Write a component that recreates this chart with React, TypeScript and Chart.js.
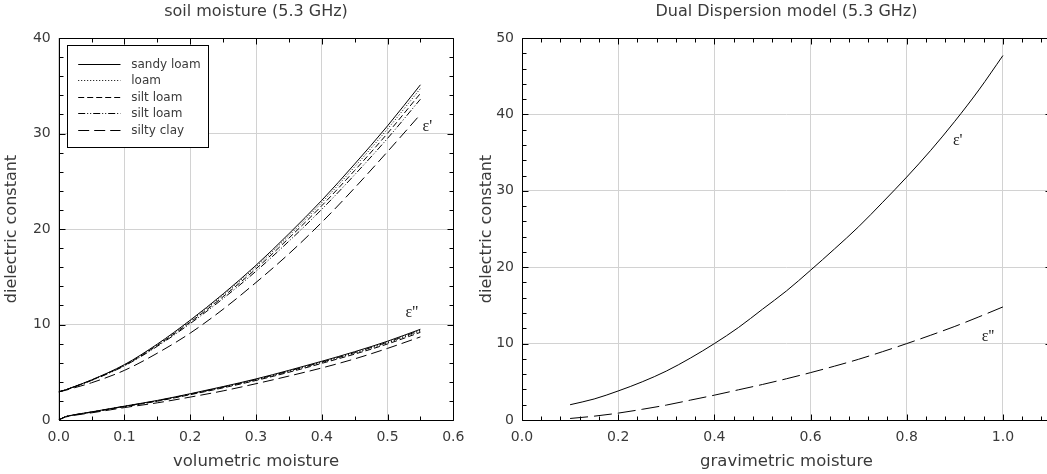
import React, { useEffect, useRef } from 'react';
import { Chart, registerables } from 'chart.js';

Chart.register(...registerables);

const SANS = '"DejaVu Sans", "Noto Sans", sans-serif';
const SERIF = '"Liberation Serif", "DejaVu Serif", serif';
const TEXT = '#3a3a3a';
const GRID = '#d2d2d2';

// ---------- Left panel: soil moisture (5.3 GHz) ----------
const volumetricMoisture = [0, 0.01, 0.02, 0.05, 0.1, 0.15, 0.2, 0.25, 0.3, 0.35, 0.4, 0.45, 0.5, 0.55];
const soilTypes = ['sandy loam', 'loam', 'silt loam', 'silt loam', 'silty clay'];

const epsRealSandyLoam = [2.95, 3.15, 3.4, 4.2, 5.8, 7.95, 10.45, 13.2, 16.2, 19.5, 23.0, 26.8, 30.8, 35.1];
const epsRealLoam = [2.95, 3.15, 3.39, 4.19, 5.77, 7.89, 10.36, 13.08, 16.04, 19.3, 22.76, 26.51, 30.47, 34.71];
const epsRealSiltLoamA = [2.95, 3.14, 3.39, 4.17, 5.72, 7.81, 10.24, 12.91, 15.83, 19.04, 22.44, 26.13, 30.02, 34.2];
const epsRealSiltLoamB = [2.95, 3.14, 3.38, 4.14, 5.67, 7.72, 10.1, 12.72, 15.58, 18.72, 22.06, 25.68, 29.49, 33.59];
const epsRealSiltyClay = [2.95, 3.1, 3.3, 3.9, 5.2, 7.0, 9.1, 11.6, 14.4, 17.4, 20.7, 24.3, 28.1, 32.0];

const epsImagSandyLoam = [0, 0.35, 0.5, 0.85, 1.45, 2.05, 2.75, 3.5, 4.3, 5.2, 6.15, 7.15, 8.25, 9.5];
const epsImagLoam = [0, 0.34, 0.49, 0.83, 1.42, 2.0, 2.69, 3.42, 4.2, 5.08, 6.02, 7.0, 8.08, 9.3];
const epsImagSiltLoamA = [0, 0.33, 0.48, 0.82, 1.4, 1.97, 2.65, 3.37, 4.14, 5.0, 5.93, 6.9, 7.96, 9.18];
const epsImagSiltLoamB = [0, 0.34, 0.5, 0.84, 1.43, 2.02, 2.71, 3.45, 4.24, 5.13, 6.07, 7.06, 8.15, 9.4];
const epsImagSiltyClay = [0, 0.3, 0.45, 0.75, 1.3, 1.8, 2.4, 3.05, 3.8, 4.6, 5.45, 6.4, 7.5, 8.7];

const leftXTicks = [0, 0.1, 0.2, 0.3, 0.4, 0.5, 0.6];
const leftYTicks = [0, 10, 20, 30, 40];
const leftCurveLabels = ["ε'", "ε''"];
const leftCurveLabelX = [0.5605, 0.537];
const leftCurveLabelY = [30.7, 11.2];

// ---------- Right panel: Dual Dispersion model (5.3 GHz) ----------
const gravimetricMoisture = [0.1, 0.15, 0.2, 0.25, 0.3, 0.35, 0.4, 0.45, 0.5, 0.55, 0.6, 0.65, 0.7, 0.75, 0.8, 0.85, 0.9, 0.95, 1.0];
const dualEpsReal = [2.0, 2.75, 3.8, 5.0, 6.4, 8.1, 10.0, 12.1, 14.5, 16.9, 19.6, 22.4, 25.3, 28.5, 31.8, 35.3, 39.1, 43.2, 47.7];
const dualEpsImag = [0.2, 0.5, 0.9, 1.4, 1.95, 2.6, 3.25, 3.95, 4.65, 5.4, 6.2, 7.05, 7.95, 8.95, 10.0, 11.1, 12.25, 13.5, 14.8];

const rightXTicks = [0, 0.2, 0.4, 0.6, 0.8, 1.0];
const rightYTicks = [0, 10, 20, 30, 40, 50];
const rightCurveLabels = ["ε'", "ε''"];
const rightCurveLabelX = [0.906, 0.969];
const rightCurveLabelY = [36.6, 10.9];

// ---------- styles ----------
const soilDashes = [[], [1, 2], [6, 3], [7, 2, 1, 2, 1, 2], [11, 5]];

// ---------- plugins ----------
const framePlugin = {
  id: 'frame',
  afterDatasetsDraw(chart: any, _args: any, opts: any) {
    const { ctx, chartArea } = chart;
    const xs = chart.scales.x;
    const ys = chart.scales.y;
    const L = Math.round(chartArea.left) + 0.5;
    const R = Math.round(chartArea.right) + 0.5;
    const T = Math.round(chartArea.top) + 0.5;
    const B = Math.round(chartArea.bottom) + 0.5;
    ctx.save();
    ctx.strokeStyle = '#000';
    ctx.lineWidth = 1;
    ctx.setLineDash([]);
    ctx.beginPath();
    ctx.rect(L, T, R - L, B - T);
    ctx.stroke();
    ctx.beginPath();
    const isMajor = (v: number, step: number) => Math.abs(v / step - Math.round(v / step)) < 1e-6;
    const nx = Math.floor((xs.max - xs.min) / opts.xMinor + 1e-6);
    for (let i = 0; i <= nx; i++) {
      const v = xs.min + i * opts.xMinor;
      const len = isMajor(v, opts.xMajor) ? opts.majorLen : opts.minorLen;
      const p = Math.round(xs.getPixelForValue(v)) + 0.5;
      ctx.moveTo(p, B);
      ctx.lineTo(p, B - len);
      ctx.moveTo(p, T);
      ctx.lineTo(p, T + len);
    }
    const ny = Math.floor((ys.max - ys.min) / opts.yMinor + 1e-6);
    for (let i = 0; i <= ny; i++) {
      const v = ys.min + i * opts.yMinor;
      const len = isMajor(v, opts.yMajor) ? opts.majorLen : opts.minorLen;
      const p = Math.round(ys.getPixelForValue(v)) + 0.5;
      ctx.moveTo(L, p);
      ctx.lineTo(L + len, p);
      ctx.moveTo(R, p);
      ctx.lineTo(R - len, p);
    }
    ctx.stroke();
    ctx.restore();
  },
};

const curveLabelPlugin = {
  id: 'curveLabels',
  afterDatasetsDraw(chart: any, _args: any, opts: any) {
    if (!opts || !opts.texts) return;
    const { ctx } = chart;
    ctx.save();
    ctx.fillStyle = '#222';
    ctx.font = `16px ${SERIF}`;
    ctx.textAlign = 'center';
    ctx.textBaseline = 'middle';
    opts.texts.forEach((t: string, i: number) => {
      const x = chart.scales.x.getPixelForValue(opts.xs[i]);
      const y = chart.scales.y.getPixelForValue(opts.ys[i]);
      ctx.fillText(t, x, y);
    });
    ctx.restore();
  },
};

const boxLegendPlugin = {
  id: 'boxLegend',
  afterDatasetsDraw(chart: any, _args: any, opts: any) {
    if (!opts || !opts.display) return;
    const { ctx, chartArea } = chart;
    const x0 = Math.round(chartArea.left + opts.offsetX) + 0.5;
    const y0 = Math.round(chartArea.top + opts.offsetY) + 0.5;
    ctx.save();
    ctx.fillStyle = '#fff';
    ctx.fillRect(x0, y0, opts.width, opts.height);
    ctx.strokeStyle = '#000';
    ctx.lineWidth = 1;
    ctx.setLineDash([]);
    ctx.strokeRect(x0, y0, opts.width, opts.height);
    const items = chart.data.datasets.filter((d: any) => !d.hideInLegend);
    items.forEach((ds: any, i: number) => {
      const cy = Math.round(y0 + opts.firstRow + i * opts.rowGap) + 0.5;
      ctx.beginPath();
      ctx.setLineDash(ds.borderDash || []);
      ctx.strokeStyle = ds.borderColor;
      ctx.lineWidth = ds.borderWidth;
      ctx.moveTo(x0 + opts.sampleStart, cy);
      ctx.lineTo(x0 + opts.sampleEnd, cy);
      ctx.stroke();
      ctx.setLineDash([]);
      ctx.fillStyle = TEXT;
      ctx.font = `12px ${SANS}`;
      ctx.textAlign = 'left';
      ctx.textBaseline = 'middle';
      ctx.fillText(ds.label, x0 + opts.textX, cy);
    });
    ctx.restore();
  },
};

function makeScales(cfg: any) {
  return {
    x: {
      type: 'linear',
      min: cfg.xMin,
      max: cfg.xMax,
      afterBuildTicks: (s: any) => {
        s.ticks = cfg.xTicks.map((v: number) => ({ value: v }));
      },
      afterFit: (s: any) => {
        s.height = cfg.xAxisHeight;
        s.paddingLeft = 0;
        s.paddingRight = 0;
      },
      ticks: {
        callback: (v: any) => Number(v).toFixed(1),
        font: { family: SANS, size: 14 },
        color: TEXT,
        padding: 9,
        maxRotation: 0,
        autoSkip: false,
      },
      grid: { color: GRID, lineWidth: 1, drawTicks: false },
      border: { display: false },
      title: {
        display: true,
        text: cfg.xTitle,
        font: { family: SANS, size: 16.5 },
        color: TEXT,
        padding: { top: 0, bottom: 2.5 },
      },
    },
    y: {
      type: 'linear',
      min: cfg.yMin,
      max: cfg.yMax,
      afterBuildTicks: (s: any) => {
        s.ticks = cfg.yTicks.map((v: number) => ({ value: v }));
      },
      afterFit: (s: any) => {
        s.width = cfg.yAxisWidth;
        s.paddingTop = 0;
        s.paddingBottom = 0;
      },
      ticks: {
        callback: (v: any) => String(v),
        font: { family: SANS, size: 14 },
        color: TEXT,
        padding: 8,
        autoSkip: false,
      },
      grid: { color: GRID, lineWidth: 1, drawTicks: false },
      border: { display: false },
      title: {
        display: true,
        text: 'dielectric constant',
        font: { family: SANS, size: 16 },
        color: TEXT,
        padding: { top: cfg.yTitlePad, bottom: 0 },
      },
    },
  };
}

function baseOptions(title: string, padRight: number) {
  return {
    responsive: false,
    animation: false,
    events: [],
    layout: { padding: { left: 0, right: padRight, top: 0, bottom: 0 } },
    elements: { point: { radius: 0 }, line: { borderWidth: 1 } },
    plugins: {
      legend: { display: false },
      tooltip: { enabled: false },
      title: {
        display: true,
        text: title,
        fullSize: false,
        font: { family: SANS, size: 16, weight: 'normal' },
        color: TEXT,
        padding: { top: 2.5, bottom: 16.3 },
      },
    },
  };
}

function line(label: string, xs: number[], ys: number[], dash: number[], hide: boolean) {
  return {
    label,
    data: xs.map((x, i) => ({ x, y: ys[i] })),
    borderColor: '#000',
    borderWidth: 1,
    borderDash: dash,
    fill: false,
    pointRadius: 0,
    cubicInterpolationMode: 'monotone',
    hideInLegend: hide,
  };
}

export default function App() {
  const leftRef = useRef<HTMLCanvasElement>(null);
  const rightRef = useRef<HTMLCanvasElement>(null);

  useEffect(() => {
    const realSeries = [epsRealSandyLoam, epsRealLoam, epsRealSiltLoamA, epsRealSiltLoamB, epsRealSiltyClay];
    const imagSeries = [epsImagSandyLoam, epsImagLoam, epsImagSiltLoamA, epsImagSiltLoamB, epsImagSiltyClay];

    const leftDatasets = [
      ...soilTypes.map((n, i) => line(n, volumetricMoisture, realSeries[i], soilDashes[i], false)),
      ...soilTypes.map((n, i) => line(n + " ε''", volumetricMoisture, imagSeries[i], soilDashes[i], true)),
    ];

    const leftOpts: any = baseOptions('soil moisture (5.3 GHz)', 26.7);
    leftOpts.scales = makeScales({
      xMin: 0, xMax: 0.6, xTicks: leftXTicks, xTitle: 'volumetric moisture', xAxisHeight: 54,
      yMin: 0, yMax: 40, yTicks: leftYTicks, yAxisWidth: 58.7, yTitlePad: 2.1,
    });
    leftOpts.plugins.frame = { xMajor: 0.1, xMinor: 0.05, yMajor: 10, yMinor: 2, majorLen: 6, minorLen: 4 };
    leftOpts.plugins.curveLabels = { texts: leftCurveLabels, xs: leftCurveLabelX, ys: leftCurveLabelY };
    leftOpts.plugins.boxLegend = {
      display: true, offsetX: 8.3, offsetY: 7, width: 141, height: 102,
      firstRow: 18, rowGap: 16.6, sampleStart: 10.7, sampleEnd: 53, textX: 63.7,
    };

    const left = new Chart(leftRef.current as HTMLCanvasElement, {
      type: 'line',
      data: { datasets: leftDatasets as any },
      options: leftOpts,
      plugins: [framePlugin, curveLabelPlugin, boxLegendPlugin],
    });

    const rightDatasets = [
      line("ε'", gravimetricMoisture, dualEpsReal, [], true),
      line("ε''", gravimetricMoisture, dualEpsImag, [18, 6], true),
    ];
    const rightOpts: any = baseOptions('Dual Dispersion model (5.3 GHz)', 19);
    rightOpts.scales = makeScales({
      xMin: 0, xMax: 1.1, xTicks: rightXTicks, xTitle: 'gravimetric moisture', xAxisHeight: 54,
      yMin: 0, yMax: 50, yTicks: rightYTicks, yAxisWidth: 52, yTitlePad: 7.5,
    });
    rightOpts.plugins.frame = { xMajor: 0.2, xMinor: 0.04, yMajor: 10, yMinor: 2, majorLen: 6, minorLen: 4 };
    rightOpts.plugins.curveLabels = { texts: rightCurveLabels, xs: rightCurveLabelX, ys: rightCurveLabelY };
    rightOpts.plugins.boxLegend = { display: false };

    const right = new Chart(rightRef.current as HTMLCanvasElement, {
      type: 'line',
      data: { datasets: rightDatasets as any },
      options: rightOpts,
      plugins: [framePlugin, curveLabelPlugin, boxLegendPlugin],
    });

    return () => {
      left.destroy();
      right.destroy();
    };
  }, []);

  return (
    <div style={{ position: 'fixed', left: 0, top: 0, width: 1047, height: 474, overflow: 'hidden', background: '#fff' }}>
      <canvas ref={leftRef} width={480} height={474} style={{ position: 'absolute', left: 0, top: 0 }} />
      <canvas ref={rightRef} width={600} height={474} style={{ position: 'absolute', left: 470, top: 0 }} />
    </div>
  );
}
